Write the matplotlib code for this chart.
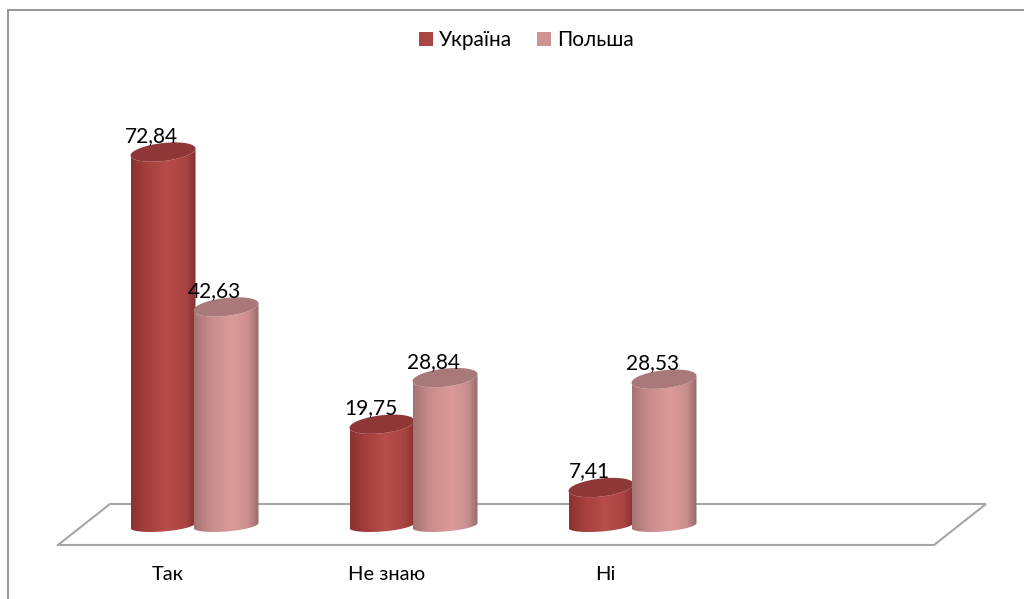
import numpy as np
from matplotlib import pyplot as plt
from matplotlib.colors import LinearSegmentedColormap
from matplotlib.patches import Polygon, Rectangle
from matplotlib.lines import Line2D

categories = ['Так', 'Не знаю', 'Ні']
ukraine = [72.84, 19.75, 7.41]
poland = [42.63, 28.84, 28.53]
ukraine_labels = ['72,84', '19,75', '7,41']
poland_labels = ['42,63', '28,84', '28,53']

plt.rcParams['font.family'] = ['Lato', 'Open Sans', 'DejaVu Sans']

W, H = 1024, 599
px_per_cat = 219.0
px_per_val = 5.127
x0_px = 163.0
y0_px = 525.5

fig = plt.figure(figsize=(W / 100, H / 100), dpi=100)
ax = fig.add_axes([0, 0, 1, 1])
ax.set_xlim(-x0_px / px_per_cat, (W - x0_px) / px_per_cat)
ax.set_ylim((y0_px - H) / px_per_val, y0_px / px_per_val)
ax.axis('off')

# outer frame of the chart
frame = '#8f8f8f'
fig.add_artist(Line2D([8 / W, 8 / W], [0, 1 - 9.5 / H], color=frame, lw=1.3))
fig.add_artist(Line2D([8 / W, 1], [1 - 9.5 / H, 1 - 9.5 / H], color=frame, lw=1.3))

# floor
fl_x = (np.array([58, 934, 986, 110, 58]) - x0_px) / px_per_cat
fl_y = (y0_px - np.array([545, 545, 504, 504, 545])) / px_per_val
ax.plot(fl_x, fl_y, color='#a6a6a6', lw=1.5, zorder=1, solid_joinstyle='miter')

bar_w = 65 / px_per_cat
step = 63 / px_per_cat
lid_h = 9 / px_per_val
lid_tilt = 3.5 / px_per_val
foot_h = 6 / px_per_val
foot_tilt = 2.5 / px_per_val

red = LinearSegmentedColormap.from_list('red', [(0, '#8a3230'), (0.2, '#a23d3b'), (0.55, '#b84d4b'),
                                                (0.85, '#a94341'), (1, '#84302e')])
pink = LinearSegmentedColormap.from_list('pink', [(0, '#a57373'), (0.25, '#c98c8c'), (0.6, '#dd9a9b'),
                                                  (0.85, '#c98d8d'), (1, '#966a6a')])
t = np.linspace(0, np.pi, 60)


def cylinder(xc, val, cmap, top_col, z):
    hw = bar_w / 2
    cx = xc + hw * np.cos(t)
    low = -foot_h * np.sin(t) + foot_tilt * np.cos(t)
    up = val + lid_h * np.sin(t) + lid_tilt * np.cos(t)
    under = val - lid_h * np.sin(t) + lid_tilt * np.cos(t)
    body = np.vstack([np.column_stack([cx[::-1], low[::-1]]), np.column_stack([cx, under])])
    patch = Polygon(body, closed=True, fc='none', ec='none', zorder=z)
    ax.add_patch(patch)
    grad = np.linspace(0, 1, 128).reshape(1, -1)
    im = ax.imshow(grad, cmap=cmap, aspect='auto', zorder=z,
                   extent=[xc - hw, xc + hw, -foot_h - foot_tilt, val + lid_h + lid_tilt],
                   interpolation='bilinear')
    im.set_clip_path(patch)
    lid = np.vstack([np.column_stack([cx, up]), np.column_stack([cx[::-1], under[::-1]])])
    ax.add_patch(Polygon(lid, closed=True, fc=top_col, ec='none', zorder=z + 0.1))


label_dx = -11.5 / px_per_cat
label_dy = 16 / px_per_val
for i in range(len(categories)):
    cylinder(i, ukraine[i], red, '#8f3736', 2)
    cylinder(i + step, poland[i], pink, '#a97878', 3)
    ax.text(i + label_dx, ukraine[i] + label_dy, ukraine_labels[i], ha='center', va='center', fontsize=15, color='black', zorder=6)
    ax.text(i + step + label_dx, poland[i] + label_dy, poland_labels[i], ha='center', va='center', fontsize=15, color='black', zorder=6)
    ax.text(i + 0.02, (y0_px - 575) / px_per_val, categories[i], ha='center', va='center', fontsize=14.5, color='black')

# legend
fig.add_artist(Rectangle((419 / W, 1 - 46 / H), 14 / W, 14 / H, fc='#ab4543', transform=fig.transFigure))
fig.text(439 / W, 1 - 40 / H, 'Україна', ha='left', va='center', fontsize=15)
fig.add_artist(Rectangle((537 / W, 1 - 46 / H), 14 / W, 14 / H, fc='#d19292', transform=fig.transFigure))
fig.text(557 / W, 1 - 40 / H, 'Польша', ha='left', va='center', fontsize=15)

plt.savefig('out.png', dpi=100)
